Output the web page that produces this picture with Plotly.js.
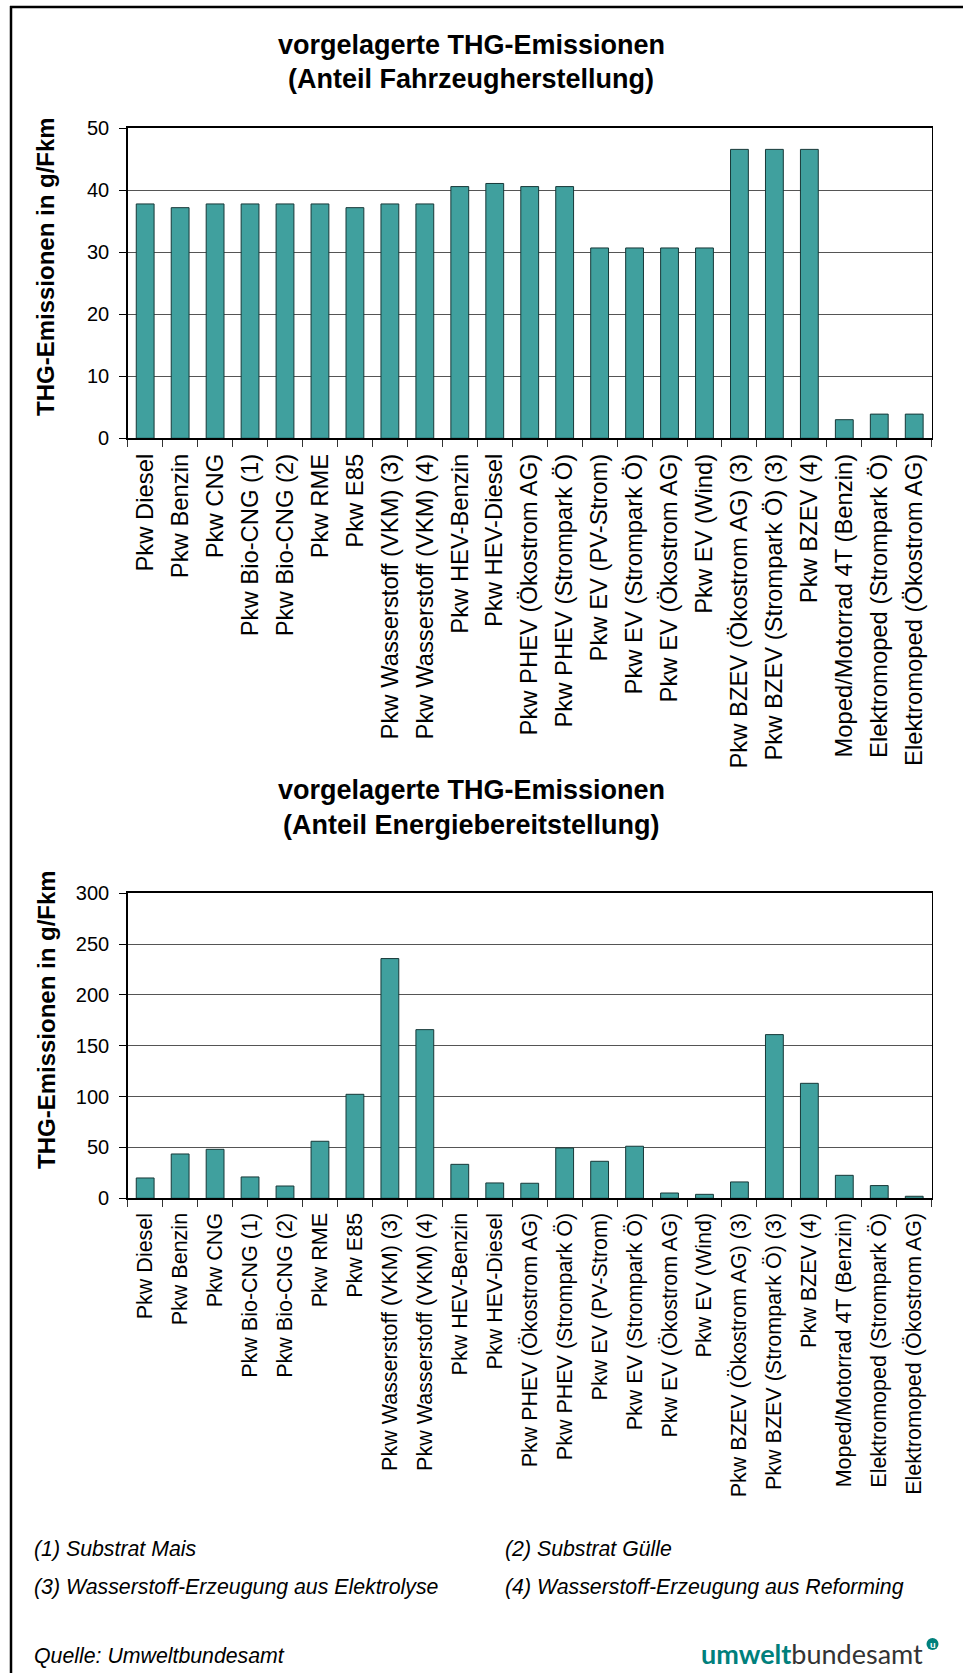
<!DOCTYPE html>
<html>
<head>
<meta charset="utf-8">
<script src="https://cdn.plot.ly/plotly-3.0.1.min.js"></script>
<style>
  html, body { margin: 0; padding: 0; background: #fff; }
  #chart { width: 963px; height: 1673px; }
</style>
</head>
<body>
<div id="chart"></div>
<script>
// ---- Data ----
const categories = [
  "Pkw Diesel", "Pkw Benzin", "Pkw CNG", "Pkw Bio-CNG (1)", "Pkw Bio-CNG (2)",
  "Pkw RME", "Pkw E85", "Pkw Wasserstoff (VKM) (3)", "Pkw Wasserstoff (VKM) (4)",
  "Pkw HEV-Benzin", "Pkw HEV-Diesel", "Pkw PHEV (Ökostrom AG)", "Pkw PHEV (Strompark Ö)",
  "Pkw EV (PV-Strom)", "Pkw EV (Strompark Ö)", "Pkw EV (Ökostrom AG)", "Pkw EV (Wind)",
  "Pkw BZEV (Ökostrom AG) (3)", "Pkw BZEV (Strompark Ö) (3)", "Pkw BZEV (4)",
  "Moped/Motorrad 4T (Benzin)", "Elektromoped (Strompark Ö)", "Elektromoped (Ökostrom AG)"
];
const fahrzeugherstellung = [
  37.8, 37.2, 37.8, 37.8, 37.8, 37.8, 37.2, 37.8, 37.8, 40.6, 41.1, 40.6, 40.6,
  30.7, 30.7, 30.7, 30.7, 46.6, 46.6, 46.6, 3.0, 3.9, 3.9
];
const energiebereitstellung = [
  20.0, 43.6, 48.2, 21.0, 12.1, 56.1, 102.3, 235.8, 165.9, 33.4, 15.1, 14.8, 49.5,
  36.4, 51.2, 5.2, 3.9, 16.1, 161.0, 113.1, 22.6, 12.5, 2.0
];
const titleTop = ["vorgelagerte THG-Emissionen", "(Anteil Fahrzeugherstellung)"];
const titleBottom = ["vorgelagerte THG-Emissionen", "(Anteil Energiebereitstellung)"];
const yTitle = "THG-Emissionen in g/Fkm";
const footnotes = [
  "(1) Substrat Mais", "(2) Substrat Gülle",
  "(3) Wasserstoff-Erzeugung aus Elektrolyse", "(4) Wasserstoff-Erzeugung aus Reforming"
];
const source = "Quelle: Umweltbundesamt";

// ---- Layout helpers (pixel -> paper) ----
const W = 963, H = 1673;
const px = x => x / W;
const py = y => 1 - y / H;

const FONT = "Liberation Sans, Arial, sans-serif";
const BAR = "#40A09E";
const EDGE = "#173838";

function barTrace(vals, xa, ya) {
  return {
    type: "bar", x: categories, y: vals, xaxis: xa, yaxis: ya,
    marker: { color: BAR, line: { color: EDGE, width: 1 } },
    hoverinfo: "x+y", showlegend: false
  };
}

function xAxisDef(domain, fsize) {
  return {
    domain: domain, type: "category", tickangle: -90,
    tickson: "boundaries", ticks: "outside", ticklen: 7, tickwidth: 1, tickcolor: "#333",
    showline: true, linecolor: "#000", linewidth: 2, mirror: true,
    showgrid: false, zeroline: false,
    tickfont: { family: FONT, size: fsize, color: "#000" },
    ticklabelstandoff: 4, fixedrange: true
  };
}
function yAxisDef(domain, range, dtick, anchor) {
  return {
    domain: domain, range: range, dtick: dtick, tick0: 0, anchor: anchor,
    ticks: "outside", ticklen: 7, tickwidth: 1, tickcolor: "#000",
    showline: true, linecolor: "#000", linewidth: 1.5, mirror: true,
    showgrid: true, gridcolor: "#555", gridwidth: 1, zeroline: false,
    tickfont: { family: FONT, size: 20, color: "#000" },
    ticklabelstandoff: 6, fixedrange: true
  };
}

const xDom = [px(127.7), px(931.7)];
const yDomTop = [py(438.3), py(128.3)];
const yDomBot = [py(1198.3), py(893.3)];

const ann = [];
function addText(text, x, y, opts) {
  ann.push(Object.assign({
    text: text, x: px(x), y: py(y), xref: "paper", yref: "paper",
    showarrow: false, xanchor: "center", yanchor: "middle",
    font: { family: FONT, size: 20, color: "#000" }
  }, opts || {}));
}
const tFont = { family: FONT, size: 27, color: "#000" };
// Titles
addText("<b>" + titleTop[0] + "</b>", 471, 45, { font: tFont });
addText("<b>" + titleTop[1] + "</b>", 471, 79, { font: tFont });
addText("<b>" + titleBottom[0] + "</b>", 471, 790, { font: tFont });
addText("<b>" + titleBottom[1] + "</b>", 471, 825, { font: tFont });
// Y titles
const yFont = { family: FONT, size: 24, color: "#000" };
addText("<b>" + yTitle + "</b>", 46, 267, { textangle: -90, font: yFont });
addText("<b>" + yTitle + "</b>", 46, 1020, { textangle: -90, font: yFont });
// Footnotes
const fnFont = { family: FONT, size: 21.3, color: "#000" };
addText("<i>" + footnotes[0] + "</i>", 32, 1549, { xanchor: "left", font: fnFont });
addText("<i>" + footnotes[1] + "</i>", 503, 1549, { xanchor: "left", font: fnFont });
addText("<i>" + footnotes[2] + "</i>", 32, 1587, { xanchor: "left", font: fnFont });
addText("<i>" + footnotes[3] + "</i>", 503, 1587, { xanchor: "left", font: fnFont });
addText("<i>" + source + "</i>", 32, 1656, { xanchor: "left", font: fnFont });
// Logo
addText("<span style='color:#00807c'><b>umwelt</b></span><span style='color:#333'>bundesamt</span>",
  925, 1653, { xanchor: "right", font: { family: "Lato, Open Sans, sans-serif", size: 27, color: "#333" } });
addText("<b>u</b>", 932.5, 1643.5, { font: { family: "Lato, sans-serif", size: 10, color: "#fff" } });

const shapes = [
  { type: "line", xref: "paper", yref: "paper", x0: px(11), x1: px(11), y0: py(6), y1: py(1673),
    line: { color: "#000", width: 2.5 } },
  { type: "line", xref: "paper", yref: "paper", x0: px(10), x1: px(963), y0: py(7), y1: py(7),
    line: { color: "#000", width: 2.5 } },
  { type: "circle", xref: "paper", yref: "paper", x0: px(926.5), x1: px(938.5), y0: py(1650), y1: py(1638),
    fillcolor: "#00807c", line: { width: 0 } }
];

const data = [
  barTrace(fahrzeugherstellung, "x", "y"),
  barTrace(energiebereitstellung, "x2", "y2")
];

const layout = {
  width: W, height: H,
  margin: { l: 0, r: 0, t: 0, b: 0, pad: 0 },
  paper_bgcolor: "#fff", plot_bgcolor: "#fff",
  bargap: 0.49,
  font: { family: FONT, color: "#000" },
  xaxis: Object.assign(xAxisDef(xDom, 23.8), { anchor: "y" }),
  yaxis: yAxisDef(yDomTop, [0, 50], 10, "x"),
  xaxis2: Object.assign(xAxisDef(xDom, 21.5), { anchor: "y2" }),
  yaxis2: yAxisDef(yDomBot, [0, 300], 50, "x2"),
  annotations: ann,
  shapes: shapes,
  showlegend: false
};

Plotly.newPlot("chart", data, layout, { displayModeBar: false, staticPlot: true });
</script>
</body>
</html>
